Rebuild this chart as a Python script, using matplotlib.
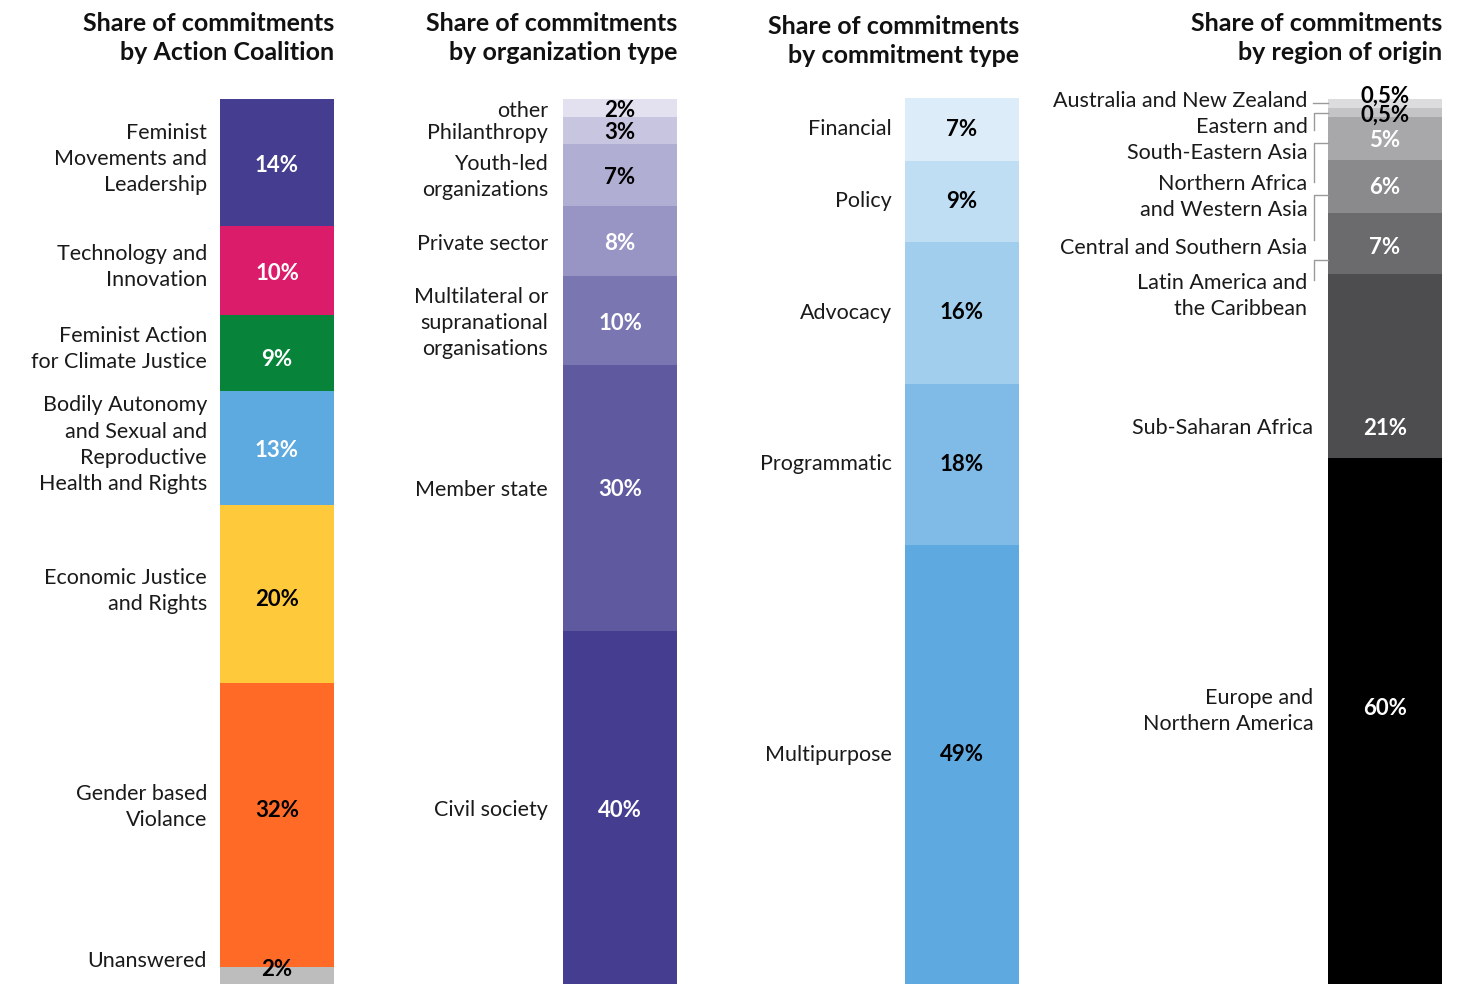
import matplotlib.pyplot as plt

plt.rcParams['font.family'] = ['Lato', 'DejaVu Sans']

# --- data (shares in %, top to bottom) ---
coalition_labels = ["Feminist\nMovements and\nLeadership", "Technology and\nInnovation",
                    "Feminist Action\nfor Climate Justice",
                    "Bodily Autonomy\nand Sexual and\nReproductive\nHealth and Rights",
                    "Economic Justice\nand Rights", "Gender based\nViolance", "Unanswered"]
coalition_share = [14.35, 10.05, 8.6, 12.9, 20.1, 32.1, 1.9]
coalition_pct = ["14%", "10%", "9%", "13%", "20%", "32%", "2%"]

org_labels = ["other", "Philanthropy", "Youth-led\norganizations", "Private sector",
              "Multilateral or\nsupranational\norganisations", "Member state", "Civil society"]
org_share = [2.0, 3.05, 7.0, 8.0, 9.95, 30.1, 39.9]
org_pct = ["2%", "3%", "7%", "8%", "10%", "30%", "40%"]

ctype_labels = ["Financial", "Policy", "Advocacy", "Programmatic", "Multipurpose"]
ctype_share = [7.1, 9.1, 16.1, 18.1, 49.6]
ctype_pct = ["7%", "9%", "16%", "18%", "49%"]

region_labels = ["Australia and New Zealand", "Eastern and\nSouth-Eastern Asia",
                 "Northern Africa\nand Western Asia", "Central and Southern Asia",
                 "Latin America and\nthe Caribbean", "Sub-Saharan Africa",
                 "Europe and\nNorthern America"]
region_share = [1.0, 1.0, 4.9, 6.0, 6.9, 20.8, 59.4]
region_pct = ["0,5%", "0,5%", "5%", "6%", "7%", "21%", "60%"]

# --- styles ---
coalition_colors = ["#453e90", "#db1c6b", "#08843a", "#5daae0", "#ffc93c", "#ff6a27", "#bdbdbd"]
coalition_txt = ["white"] * 4 + ["black"] * 3
org_colors = ["#e3e1f0", "#c8c5e0", "#b1aed4", "#9894c4", "#7a76b2", "#5f5aa0", "#453e90"]
org_txt = ["black"] * 3 + ["white"] * 4
ctype_colors = ["#dcecf8", "#bfddf3", "#a2ceee", "#80bae6", "#5da9e0"]
ctype_txt = ["black"] * 5
region_colors = ["#dcdcde", "#c4c4c6", "#a8a8aa", "#8a8a8c", "#6b6b6d", "#4d4d4f", "#000000"]
region_txt = ["black"] * 2 + ["white"] * 5

W, H = 1475, 984
fig = plt.figure(figsize=(W / 100, H / 100), dpi=100)


def make_ax(left_px, top_px):
    return fig.add_axes([left_px / W, 0, 114 / W, (H - top_px) / H])


def stacked(ax, shares, colors):
    bottom = 0
    centers = []
    for s, c in zip(shares, colors):
        ax.bar(0.5, s, width=1, bottom=bottom, color=c, linewidth=0)
        centers.append(bottom + s / 2)
        bottom += s
    ax.set_xlim(0, 1)
    ax.set_ylim(100, 0)
    ax.axis("off")
    return centers


def title(ax, txt, y=1.0686):
    ax.text(1.0, y, txt, transform=ax.transAxes, ha="right", va="center",
            fontsize=18, fontweight="bold", linespacing=1.3, color="#111111")


lab_kw = dict(ha="right", va="center", fontsize=15.5, linespacing=1.38, color="#1a1a1a")
pct_kw = dict(ha="center", va="center", fontsize=16, fontweight="bold")
dy = 0.3  # small nudge so the digits sit at the visual centre

# bar 1
ax1 = make_ax(220, 99)
cen = stacked(ax1, coalition_share, coalition_colors)
lab_y = [c - 0.4 for c in cen]
lab_y[5] -= 1.6
lab_y[6] -= 1.3
pct_y = [c + dy for c in cen]
pct_y[2] += 0.4
pct_y[4] += 0.3
pct_y[5] = lab_y[5] + 0.3
pct_y[6] = cen[6] - 0.7
for lab, p, tc, ly, py in zip(coalition_labels, coalition_pct, coalition_txt, lab_y, pct_y):
    ax1.text(-0.114, ly, lab, **lab_kw)
    ax1.text(0.5, py, p, color=tc, **pct_kw)
title(ax1, "Share of commitments\nby Action Coalition")

# bar 2
ax2 = make_ax(563, 99)
cen = stacked(ax2, org_share, org_colors)
for i, (lab, p, tc, c) in enumerate(zip(org_labels, org_pct, org_txt, cen)):
    ly = c - 1.2 if i == 5 else c
    ax2.text(-0.13, ly + dy, lab, **lab_kw)
    ax2.text(0.5, ly + dy, p, color=tc, **pct_kw)
title(ax2, "Share of commitments\nby organization type")

# bar 3
ax3 = make_ax(905, 98)
cen = stacked(ax3, ctype_share, ctype_colors)
for i, (lab, p, tc, c) in enumerate(zip(ctype_labels, ctype_pct, ctype_txt, cen)):
    ly = c - 1.4 if i == 4 else c - 0.3
    ax3.text(-0.114, ly + dy, lab, **lab_kw)
    ax3.text(0.5, ly + dy, p, color=tc, **pct_kw)
title(ax3, "Share of commitments\nby commitment type", y=1.064)

# bar 4 (label placement for the thin segments, % from top)
region_label_y = [0.25, 4.6, 11.1, 16.8, 22.3, 37.2, 69.2]
region_pct_y = [-0.35, 1.8, 4.7, 10.0, 16.8, 37.2, 68.9]
bracket_spans = [(1.6, 3.5), (4.97, 9.4), (10.9, 15.9), (18.2, 20.4)]

ax4 = make_ax(1328, 99)
stacked(ax4, region_share, region_colors)
for i, (lab, p, tc) in enumerate(zip(region_labels, region_pct, region_txt)):
    lx = -0.18 if i < 5 else -0.13
    ax4.text(lx, region_label_y[i], lab, **lab_kw)
    ax4.text(0.5, region_pct_y[i], p, color=tc, **pct_kw)

line_kw = dict(color="#9a9a9a", lw=1, clip_on=False)
ax4.plot([-0.13, 0], [0.45, 0.45], **line_kw)
for top, bot in bracket_spans:
    ax4.plot([0, -0.123, -0.123], [top, top, bot], **line_kw)
title(ax4, "Share of commitments\nby region of origin")

fig.savefig("out.png", dpi=100)
